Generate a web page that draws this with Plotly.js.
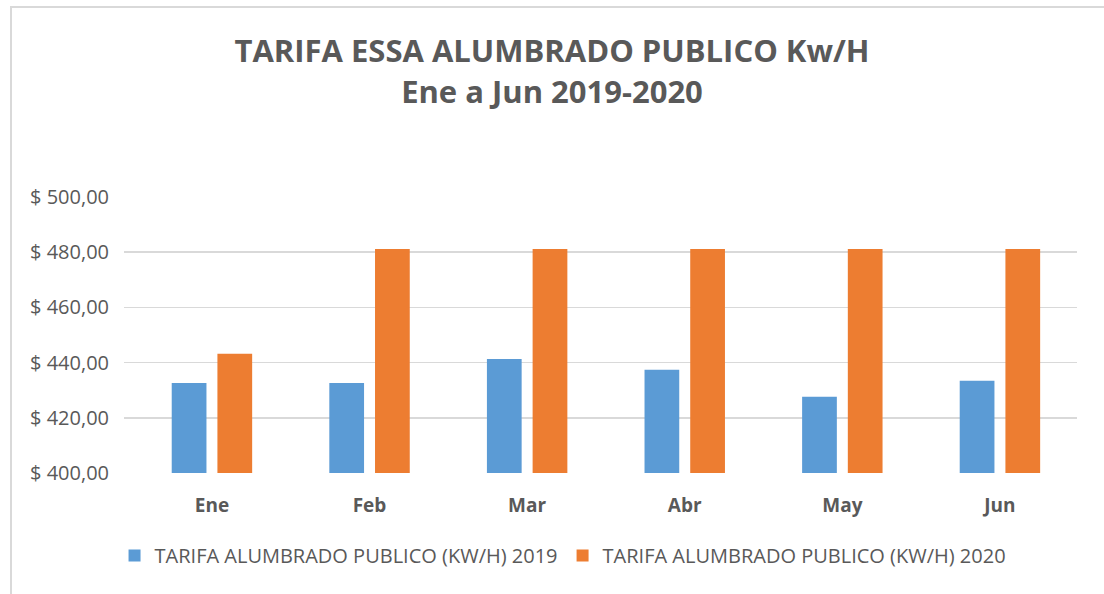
<!DOCTYPE html>
<html>
<head>
<meta charset="utf-8">
<script src="https://cdn.plot.ly/plotly-3.0.1.min.js"></script>
<style>
  html, body { margin: 0; padding: 0; background: #fff; }
  #wrap { position: relative; width: 1104px; height: 594px; overflow: hidden; }
  #chart { width: 1104px; height: 594px; }
  #frame { position: absolute; left: 10px; top: 6px; right: -10px; bottom: -10px;
           border-top: 2px solid #d9d9d9; border-left: 2px solid #d9d9d9; pointer-events: none; }
</style>
</head>
<body>
<div id="wrap">
  <div id="chart"></div>
  <div id="frame"></div>
</div>
<script>
const months = ["Ene", "Feb", "Mar", "Abr", "May", "Jun"];
const tarifa2019 = [432.6, 432.6, 441.3, 437.4, 427.6, 433.4];
const tarifa2020 = [443.2, 481.2, 481.2, 481.2, 481.2, 481.2];
const seriesNames = ["TARIFA ALUMBRADO PUBLICO (KW/H) 2019", "TARIFA ALUMBRADO PUBLICO (KW/H) 2020"];
const titleLines = ["TARIFA ESSA ALUMBRADO PUBLICO Kw/H", "Ene a Jun 2019-2020"];

const gray = "#595959";
const fontFam = "Open Sans, Liberation Sans, Arial, sans-serif";

const traces = [
  { type: "bar", x: months, y: tarifa2019, name: seriesNames[0],
    marker: { color: "#5b9bd5" }, hoverinfo: "y" },
  { type: "bar", x: months, y: tarifa2020, name: seriesNames[1],
    marker: { color: "#ed7d31" }, hoverinfo: "y" }
];

const layout = {
  width: 1104, height: 594,
  paper_bgcolor: "#ffffff", plot_bgcolor: "#ffffff",
  margin: { l: 124, r: 27, t: 197, b: 121 },
  separators: ",.",
  font: { family: fontFam, color: gray },
  title: {
    text: "<b>" + titleLines[0] + "<br>" + titleLines[1] + "</b>",
    x: 0.5, xanchor: "center", xref: "container",
    y: 0.895, yanchor: "top", yref: "container",
    font: { family: fontFam, size: 31, color: gray }
  },
  barmode: "group",
  bargap: 0.42,
  bargroupgap: 0.24,
  xaxis: {
    type: "category",
    range: [-0.558, 5.489],
    tickfont: { family: fontFam, size: 19, color: gray, weight: "bold" },
    showline: false, ticks: "", showgrid: false, zeroline: false,
    ticklabelstandoff: 19
  },
  yaxis: {
    range: [400, 500], dtick: 20, tick0: 400,
    tickprefix: "$ ", tickformat: ".2f",
    tickfont: { family: fontFam, size: 20, color: gray },
    gridcolor: "#d9d9d9", gridwidth: 1.5,
    showline: false, zeroline: false, ticks: "",
    ticklabelstandoff: 14
  },
  legend: {
    orientation: "h", x: 0.51, xanchor: "center", xref: "container",
    y: 0.065, yanchor: "middle", yref: "container",
    font: { family: fontFam, size: 20, color: gray },
    itemwidth: 30, traceorder: "normal"
  },
  showlegend: true
};

Plotly.newPlot("chart", traces, layout, { displayModeBar: false, staticPlot: true });
</script>
</body>
</html>
